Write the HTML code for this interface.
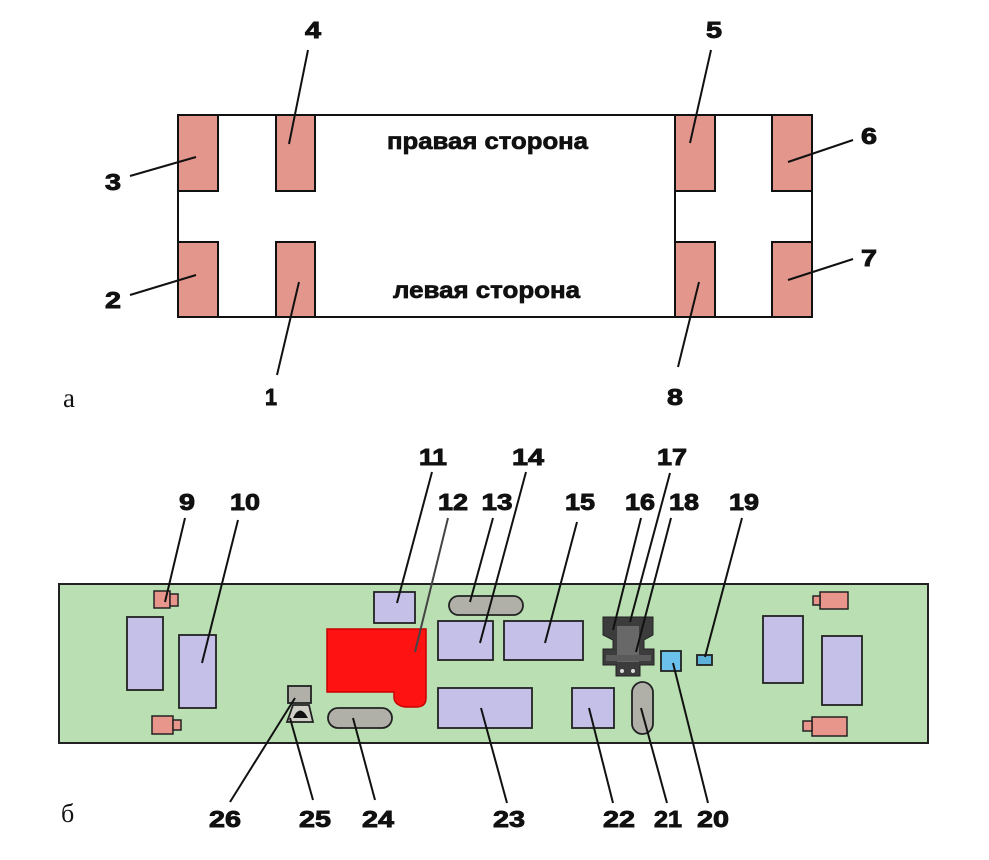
<!DOCTYPE html>
<html><head><meta charset="utf-8"><style>
html,body{margin:0;padding:0;background:#fff;}
svg{display:block;}
text{font-family:"Liberation Sans",sans-serif;font-weight:bold;fill:#111;stroke:#111;stroke-width:0.9px;}
.s{font-family:"Liberation Serif",serif;font-weight:normal;stroke:none;}
</style></head><body>
<svg width="989" height="860" viewBox="0 0 989 860" xmlns="http://www.w3.org/2000/svg">
<rect width="989" height="860" fill="#ffffff"/>
<!-- TOP DIAGRAM -->
<path d="M178,115 H812 V317 H178 Z" fill="none" stroke="#111" stroke-width="2"/>
<line x1="675" y1="115" x2="675" y2="317" stroke="#111" stroke-width="2"/>
<g fill="#e2968c" stroke="#111" stroke-width="2">
<rect x="178" y="115" width="40" height="76"/>
<rect x="276" y="115" width="39" height="76"/>
<rect x="675" y="115" width="40" height="76"/>
<rect x="772" y="115" width="40" height="76"/>
<rect x="178" y="242" width="40" height="75"/>
<rect x="276" y="242" width="39" height="75"/>
<rect x="675" y="242" width="40" height="75"/>
<rect x="772" y="242" width="40" height="75"/>
</g>
<text x="387" y="149" font-size="23" textLength="201" lengthAdjust="spacingAndGlyphs" style="stroke-width:0.7px">правая сторона</text>
<text x="393" y="298" font-size="23" textLength="187" lengthAdjust="spacingAndGlyphs" style="stroke-width:0.7px">левая сторона</text>
<g stroke="#111" stroke-width="2">
<line x1="308" y1="50" x2="289" y2="144"/>
<line x1="130" y1="176" x2="196" y2="157"/>
<line x1="130" y1="295" x2="196" y2="275"/>
<line x1="277" y1="375" x2="299" y2="282"/>
<line x1="711" y1="50" x2="690" y2="143"/>
<line x1="853" y1="140" x2="788" y2="162"/>
<line x1="853" y1="259" x2="788" y2="280"/>
<line x1="678" y1="367" x2="699" y2="282"/>
</g>
<g font-size="23" text-anchor="middle">
<text x="313" y="38" textLength="16" lengthAdjust="spacingAndGlyphs">4</text>
<text x="714" y="38" textLength="16" lengthAdjust="spacingAndGlyphs">5</text>
<text x="113" y="190" textLength="16" lengthAdjust="spacingAndGlyphs">3</text>
<text x="113" y="308" textLength="16" lengthAdjust="spacingAndGlyphs">2</text>
<text x="869" y="144" textLength="16" lengthAdjust="spacingAndGlyphs">6</text>
<text x="869" y="266" textLength="16" lengthAdjust="spacingAndGlyphs">7</text>
<text x="271" y="405" textLength="12" lengthAdjust="spacingAndGlyphs">1</text>
<text x="675" y="405" textLength="16" lengthAdjust="spacingAndGlyphs">8</text>
</g>
<text class="s" x="63" y="407" font-size="27">а</text>

<!-- BOTTOM DIAGRAM -->
<rect x="59" y="584" width="869" height="159" fill="#b9dfb3" stroke="#222" stroke-width="2"/>
<!-- pink connectors -->
<g fill="#e8968c" stroke="#222" stroke-width="1.5">
<rect x="154" y="591" width="16" height="17"/>
<rect x="170" y="594" width="8" height="12"/>
<rect x="152" y="716" width="21" height="18"/>
<rect x="173" y="720" width="8" height="10"/>
<rect x="820" y="592" width="28" height="17"/>
<rect x="813" y="596" width="7" height="9"/>
<rect x="812" y="717" width="35" height="19"/>
<rect x="803" y="721" width="9" height="10"/>
</g>
<!-- lavender blocks -->
<g fill="#c4c0e8" stroke="#222" stroke-width="1.8">
<rect x="127" y="617" width="36" height="73"/>
<rect x="179" y="635" width="37" height="73"/>
<rect x="374" y="592" width="41" height="31"/>
<rect x="438" y="621" width="55" height="39"/>
<rect x="504" y="621" width="79" height="39"/>
<rect x="438" y="688" width="94" height="40"/>
<rect x="572" y="688" width="42" height="40"/>
<rect x="763" y="616" width="40" height="67"/>
<rect x="822" y="636" width="40" height="69"/>
</g>
<!-- red block 12 -->
<path d="M327,629 H426 V698 Q426,707 416,707 H405 Q394,705 394,697 V692 H327 Z" fill="#ff1212" stroke="#c80000" stroke-width="1.5"/>
<!-- grey pills -->
<g fill="#b0b0a8" stroke="#222" stroke-width="1.8">
<rect x="449" y="596" width="74" height="19" rx="9.5"/>
<rect x="328" y="708" width="64" height="20" rx="10"/>
<rect x="632" y="682" width="21" height="52" rx="10.5"/>
<rect x="288" y="686" width="23" height="17"/>
<path d="M293,705 H309 L313,722 H287 Z" fill="#cfcfc8"/>
</g>
<path d="M293,718 Q300,703 308,718 Z" fill="#111"/>
<!-- dark component 16-18 -->
<polygon points="603,617 653,617 653,635 644,640 644,649 654,649 654,665 640,665 640,676 616,676 616,665 603,665 603,649 613,649 613,640 603,635" fill="#3c3c3c" stroke="#222" stroke-width="1"/>
<rect x="617" y="626" width="22" height="36" fill="#686868"/>
<rect x="606" y="655" width="45" height="6" fill="#5a5a5a"/>
<circle cx="622" cy="671" r="2" fill="#ddd"/>
<circle cx="633" cy="671" r="2" fill="#ddd"/>
<!-- blue -->
<rect x="661" y="651" width="20" height="20" fill="#6cc0ec" stroke="#222" stroke-width="1.8"/>
<rect x="697" y="655" width="15" height="10" fill="#5cb2d8" stroke="#222" stroke-width="1.8"/>
<!-- leader lines -->
<g stroke="#111" stroke-width="2">
<line x1="185" y1="518" x2="165" y2="602"/>
<line x1="238" y1="520" x2="202" y2="663"/>
<line x1="432" y1="472" x2="397" y2="603"/>
<line x1="448" y1="518" x2="415" y2="652" stroke="#444"/>
<line x1="493" y1="518" x2="470" y2="602"/>
<line x1="526" y1="472" x2="480" y2="643"/>
<line x1="577" y1="522" x2="545" y2="643"/>
<line x1="641" y1="518" x2="613" y2="630"/>
<line x1="670" y1="473" x2="630" y2="622"/>
<line x1="671" y1="518" x2="636" y2="652"/>
<line x1="742" y1="518" x2="705" y2="657"/>
<line x1="708" y1="803" x2="673" y2="663"/>
<line x1="667" y1="803" x2="641" y2="708"/>
<line x1="613" y1="803" x2="589" y2="708"/>
<line x1="507" y1="803" x2="481" y2="708"/>
<line x1="375" y1="800" x2="353" y2="718"/>
<line x1="313" y1="800" x2="290" y2="718"/>
<line x1="230" y1="802" x2="295" y2="698"/>
</g>
<g font-size="23" text-anchor="middle">
<text x="433" y="465" textLength="28" lengthAdjust="spacingAndGlyphs">11</text>
<text x="528" y="465" textLength="32" lengthAdjust="spacingAndGlyphs">14</text>
<text x="672" y="465" textLength="30" lengthAdjust="spacingAndGlyphs">17</text>
<text x="187" y="510" textLength="16" lengthAdjust="spacingAndGlyphs">9</text>
<text x="245" y="510" textLength="30" lengthAdjust="spacingAndGlyphs">10</text>
<text x="453" y="510" textLength="30" lengthAdjust="spacingAndGlyphs">12</text>
<text x="497" y="510" textLength="31" lengthAdjust="spacingAndGlyphs">13</text>
<text x="580" y="510" textLength="30" lengthAdjust="spacingAndGlyphs">15</text>
<text x="640" y="510" textLength="30" lengthAdjust="spacingAndGlyphs">16</text>
<text x="684" y="510" textLength="30" lengthAdjust="spacingAndGlyphs">18</text>
<text x="744" y="510" textLength="30" lengthAdjust="spacingAndGlyphs">19</text>
<text x="225" y="827" textLength="32" lengthAdjust="spacingAndGlyphs">26</text>
<text x="315" y="827" textLength="32" lengthAdjust="spacingAndGlyphs">25</text>
<text x="378" y="827" textLength="32" lengthAdjust="spacingAndGlyphs">24</text>
<text x="509" y="827" textLength="32" lengthAdjust="spacingAndGlyphs">23</text>
<text x="619" y="827" textLength="32" lengthAdjust="spacingAndGlyphs">22</text>
<text x="668" y="827" textLength="28" lengthAdjust="spacingAndGlyphs">21</text>
<text x="713" y="827" textLength="32" lengthAdjust="spacingAndGlyphs">20</text>
</g>
<text class="s" x="61" y="822" font-size="26">б</text>
</svg>
</body></html>
